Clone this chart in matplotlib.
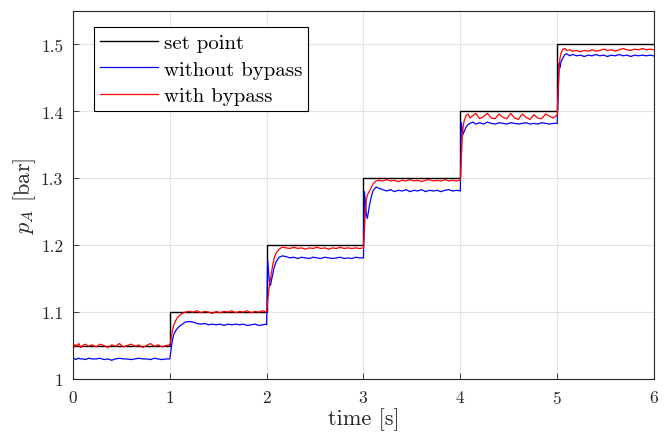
import matplotlib
matplotlib.use("Agg")
import matplotlib.pyplot as plt
from matplotlib.ticker import FormatStrFormatter

plt.rcParams['font.family'] = 'serif'
plt.rcParams['font.serif'] = ['cmr10', 'DejaVu Serif']
plt.rcParams['mathtext.fontset'] = 'cm'
plt.rcParams['axes.formatter.use_mathtext'] = True

# ---- data ----
step_times = [0, 1, 2, 3, 4, 5, 6]
set_levels = [1.05, 1.1, 1.2, 1.3, 1.4, 1.5]

offsets = [0.00, 0.01, 0.02, 0.03, 0.04, 0.06, 0.08, 0.10, 0.13, 0.16, 0.20,
           0.24, 0.28, 0.32, 0.36, 0.40, 0.44, 0.48, 0.52, 0.56, 0.60, 0.64,
           0.68, 0.72, 0.76, 0.80, 0.84, 0.88, 0.92, 0.96, 0.995]

without_bypass = [
    # 0-1 s
    1.030, 1.031, 1.030, 1.029, 1.030, 1.031, 1.030, 1.030, 1.029, 1.031, 1.030,
    1.030, 1.031, 1.029, 1.030, 1.028, 1.030, 1.031, 1.030, 1.030, 1.029, 1.030,
    1.031, 1.030, 1.030, 1.029, 1.031, 1.030, 1.029, 1.030, 1.030,
    # 1-2 s
    1.030, 1.040, 1.052, 1.060, 1.066, 1.072, 1.076, 1.079, 1.082, 1.085, 1.086,
    1.085, 1.083, 1.082, 1.083, 1.081, 1.082, 1.081, 1.082, 1.080, 1.082, 1.081,
    1.082, 1.081, 1.082, 1.080, 1.081, 1.082, 1.080, 1.081, 1.082,
    # 2-3 s
    1.081, 1.178, 1.160, 1.142, 1.140, 1.155, 1.168, 1.176, 1.182, 1.184, 1.183,
    1.181, 1.182, 1.180, 1.182, 1.181, 1.180, 1.182, 1.181, 1.180, 1.182, 1.181,
    1.180, 1.181, 1.182, 1.180, 1.181, 1.180, 1.182, 1.181, 1.181,
    # 3-4 s
    1.181, 1.280, 1.262, 1.245, 1.240, 1.258, 1.272, 1.282, 1.287, 1.285, 1.283,
    1.281, 1.283, 1.280, 1.282, 1.281, 1.283, 1.280, 1.282, 1.281, 1.283, 1.280,
    1.282, 1.281, 1.282, 1.280, 1.282, 1.283, 1.281, 1.282, 1.281,
    # 4-5 s
    1.281, 1.383, 1.372, 1.366, 1.370, 1.377, 1.380, 1.382, 1.384, 1.381, 1.383,
    1.381, 1.384, 1.382, 1.381, 1.383, 1.382, 1.381, 1.383, 1.382, 1.381, 1.382,
    1.383, 1.381, 1.382, 1.381, 1.383, 1.382, 1.381, 1.382, 1.382,
    # 5-6 s
    1.382, 1.420, 1.472, 1.465, 1.474, 1.480, 1.485, 1.486, 1.483, 1.485, 1.483,
    1.484, 1.482, 1.484, 1.483, 1.485, 1.483, 1.484, 1.482, 1.484, 1.483, 1.485,
    1.483, 1.484, 1.482, 1.484, 1.483, 1.484, 1.483, 1.484, 1.483,
]

with_bypass = [
    # 0-1 s
    1.050, 1.052, 1.048, 1.051, 1.049, 1.053, 1.047, 1.050, 1.052, 1.049, 1.051,
    1.048, 1.052, 1.050, 1.047, 1.051, 1.049, 1.053, 1.048, 1.050, 1.052, 1.049,
    1.051, 1.047, 1.050, 1.053, 1.049, 1.051, 1.048, 1.050, 1.051,
    # 1-2 s
    1.050, 1.058, 1.066, 1.074, 1.080, 1.087, 1.092, 1.095, 1.098, 1.100, 1.101,
    1.100, 1.102, 1.099, 1.101, 1.100, 1.098, 1.101, 1.099, 1.101, 1.100, 1.102,
    1.099, 1.101, 1.100, 1.102, 1.099, 1.101, 1.100, 1.102, 1.100,
    # 2-3 s
    1.100, 1.115, 1.130, 1.142, 1.150, 1.168, 1.182, 1.189, 1.194, 1.197, 1.196,
    1.195, 1.197, 1.195, 1.196, 1.194, 1.196, 1.195, 1.197, 1.195, 1.196, 1.194,
    1.196, 1.195, 1.197, 1.195, 1.196, 1.195, 1.196, 1.195, 1.196,
    # 3-4 s
    1.196, 1.225, 1.250, 1.268, 1.275, 1.280, 1.286, 1.292, 1.296, 1.297, 1.296,
    1.298, 1.296, 1.297, 1.295, 1.297, 1.296, 1.298, 1.296, 1.297, 1.295, 1.297,
    1.298, 1.296, 1.297, 1.296, 1.298, 1.296, 1.297, 1.296, 1.297,
    # 4-5 s
    1.297, 1.330, 1.360, 1.378, 1.386, 1.394, 1.396, 1.390, 1.394, 1.397, 1.389,
    1.392, 1.397, 1.390, 1.389, 1.396, 1.391, 1.389, 1.397, 1.390, 1.388, 1.396,
    1.391, 1.388, 1.395, 1.390, 1.389, 1.396, 1.393, 1.390, 1.394,
    # 5-6 s
    1.394, 1.430, 1.465, 1.480, 1.487, 1.493, 1.494, 1.491, 1.492, 1.490, 1.491,
    1.489, 1.491, 1.490, 1.492, 1.490, 1.491, 1.493, 1.491, 1.492, 1.490, 1.492,
    1.494, 1.492, 1.491, 1.493, 1.492, 1.494, 1.492, 1.493, 1.492,
]

time = [k + o for k in step_times[:-1] for o in offsets]

x_ticks = [0, 1, 2, 3, 4, 5, 6]
y_ticks = [1.0, 1.1, 1.2, 1.3, 1.4, 1.5]

# ---- plot ----
fig = plt.figure(figsize=(6.67, 4.39), dpi=100)
ax = fig.add_axes([0.1094, 0.1344, 0.8711, 0.8383])

axcol = '#262626'
ax.stairs(set_levels, step_times, baseline=None, color='black', lw=1.0,
          label='set point', zorder=2)
ax.plot(time, without_bypass, color='blue', lw=0.9, label='without bypass', zorder=2.2)
ax.plot(time, with_bypass, color='red', lw=0.9, label='with bypass', zorder=2.4)

ax.set_xlim(0, 6)
ax.set_ylim(1.0, 1.55)
ax.set_xticks(x_ticks)
ax.set_yticks(y_ticks)
ax.yaxis.set_major_formatter(FormatStrFormatter('%g'))
ax.grid(True, color='#e3e3e3', lw=0.8)
ax.set_axisbelow(True)
ax.tick_params(direction='in', length=4, width=0.6, colors=axcol,
               labelsize=12.5, top=False, right=False, pad=7)
for s in ax.spines.values():
    s.set_color(axcol)
    s.set_linewidth(0.8)

ax.set_xlabel('time [s]', fontsize=16, color=axcol, labelpad=1)
ax.set_ylabel(r'$p_A$ [bar]', fontsize=16, color=axcol, labelpad=2)

leg = ax.legend(loc='upper left', bbox_to_anchor=(0.036, 0.956), fontsize=15,
                frameon=True, fancybox=False, edgecolor='black', framealpha=1,
                handlelength=2.8, handletextpad=0.25, borderpad=0.3,
                labelspacing=0.38, borderaxespad=0)
leg.get_frame().set_linewidth(0.8)

fig.savefig('out.png', dpi=100)
